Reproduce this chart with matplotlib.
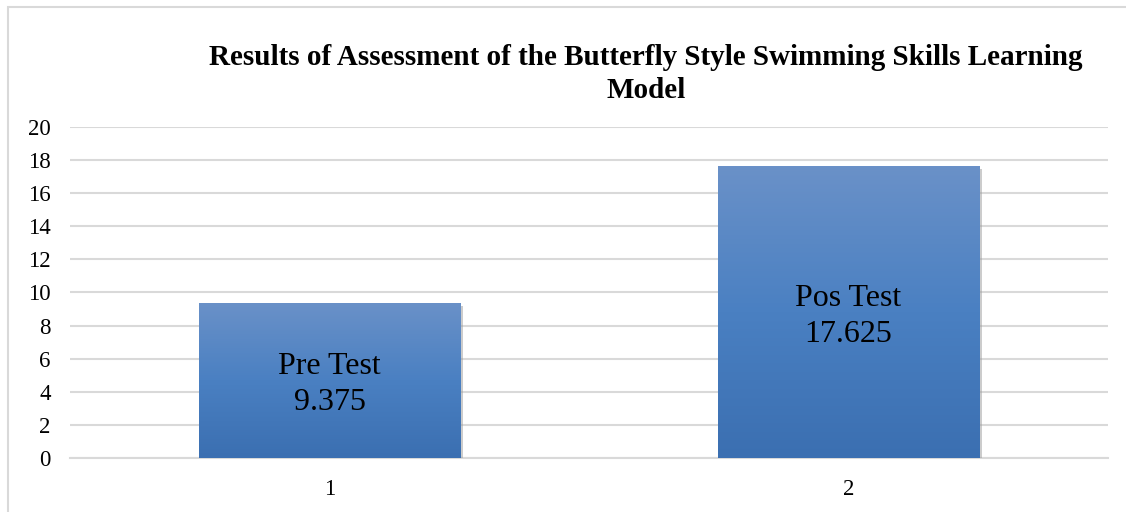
import numpy as np
import matplotlib
matplotlib.use("Agg")
import matplotlib.pyplot as plt
import matplotlib.patheffects as pe
from matplotlib.patches import Rectangle
from matplotlib.colors import LinearSegmentedColormap

categories = ["1", "2"]
test_names = ["Pre Test", "Pos Test"]
scores = [9.375, 17.625]
label_texts = ["9.375", "17.625"]

plt.rcParams["font.family"] = ["Liberation Serif", "DejaVu Serif"]

fig = plt.figure(figsize=(11.26, 5.12), dpi=100)
ax = fig.add_axes([0.0622, 0.1055, 0.9218, 0.6465])

# outer chart frame (light gray, runs off the right/bottom edges)
fig.patches.append(Rectangle((8 / 1126, -0.1), 1.2, 1 - 7 / 512 + 0.1,
                             transform=fig.transFigure, fill=False,
                             edgecolor="#d9d9d9", linewidth=1.5))

x = np.arange(len(categories))
bars = ax.bar(x, scores, width=0.503, color="#4a7ebf", zorder=3,
              path_effects=[pe.SimplePatchShadow(offset=(2, -2), shadow_rgbFace="#9a9a9a", alpha=0.5), pe.Normal()])

# vertical gradient fill inside each bar
grad = LinearSegmentedColormap.from_list("g", ["#3b6fb1", "#4a80c2", "#6a91c8"])
for b in bars:
    xs, y0, w, h = b.get_x(), b.get_y(), b.get_width(), b.get_height()
    img = ax.imshow(np.linspace(0, 1, 256).reshape(-1, 1), cmap=grad, origin="lower",
                    extent=[xs, xs + w, y0, y0 + h], aspect="auto", zorder=4)
    img.set_clip_path(b)

for xi, v, name, lab in zip(x, scores, test_names, label_texts):
    ax.annotate(name + "\n" + lab, (xi, v / 2), xytext=(0, -3), textcoords="offset points",
                ha="center", va="center", fontsize=23, color="black", zorder=5, linespacing=1.3)

ax.set_xlim(-0.5, 1.5)
ax.set_ylim(0, 20)
ax.set_yticks(range(0, 21, 2))
ax.set_xticks(x)
ax.set_xticklabels(categories)
ax.tick_params(axis="both", length=0, labelsize=16.5, colors="black")
ax.tick_params(axis="y", pad=14)
ax.tick_params(axis="x", pad=15)
ax.grid(axis="y", color="#d9d9d9", linewidth=1.5, zorder=0)
ax.set_axisbelow(True)
for s in ["top", "right", "left"]:
    ax.spines[s].set_visible(False)
ax.spines["bottom"].set_color("#d9d9d9")
ax.spines["bottom"].set_linewidth(1.5)

fig.text(646 / 1126, 1 - 74 / 512,
         "Results of Assessment of the Butterfly Style Swimming Skills Learning\nModel",
         ha="center", va="center", fontsize=21, fontweight="bold", linespacing=1.3)

fig.savefig("out.png", dpi=100)
